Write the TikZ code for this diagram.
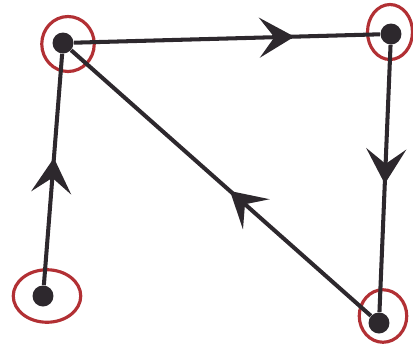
\documentclass[tikz,border=0pt]{standalone}
\usetikzlibrary{shapes.geometric, arrows.meta, decorations.markings}
\definecolor{inkred}{RGB}{178,48,52}
\definecolor{ink}{RGB}{45,40,45}

\begin{document}
\begin{tikzpicture}[x=0.02cm,y=-0.02cm,
  dot/.style={circle,fill=ink,inner sep=0pt,minimum size=0.42cm},
  ring/.style={ellipse,draw=inkred,line width=1.8pt,inner sep=0pt},
  edge/.style={draw=ink,line width=2.3pt,postaction={decorate},
    decoration={markings,mark=at position #1 with {\arrow{Stealth[length=7mm,width=8mm,inset=3mm]}}}}
]
  \useasboundingbox (0,0) rectangle (413,353);
  \node[dot] (A) at (63,43)  {};
  \node[dot] (B) at (391,34) {};
  \node[dot] (C) at (43,296) {};
  \node[dot] (D) at (379,323) {};
  \node[ring,minimum width=1.05cm,minimum height=1.1cm] (rA) at (68,44)  {};
  \node[ring,minimum width=0.9cm,minimum height=1.1cm]  (rB) at (390,32) {};
  \node[ring,minimum width=1.35cm,minimum height=1.05cm](rC) at (47,296) {};
  \node[ring,minimum width=0.95cm,minimum height=1.05cm](rD) at (383,316){};

  \draw[edge=0.72] (A) -- (B);
  \draw[edge=0.52] (B) -- (D);
  \draw[edge=0.47] (D) -- (A);
  \draw[edge=0.55] (C) -- (A);
\end{tikzpicture}
\end{document}
